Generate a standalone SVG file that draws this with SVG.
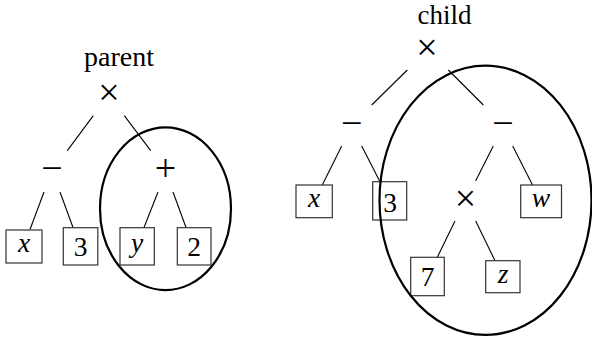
<svg xmlns="http://www.w3.org/2000/svg" width="592" height="345" viewBox="0 0 592 345">
<style>
text{font-family:"Liberation Serif","DejaVu Serif","Times New Roman",serif;fill:#000;text-anchor:middle}
.title{font-size:28px}
.op{font-size:38px}
.lbl{font-size:27.5px}
.it{font-style:italic}
.box{fill:none;stroke:#333;stroke-width:1.2}
.edge{stroke:#000;stroke-width:1.1;fill:none}
.ell{fill:none;stroke:#000;stroke-width:2.2}
</style>
<rect width="592" height="345" fill="#fff"/>
<g id="connectors">
<line class="edge" x1="93.3" y1="115.7" x2="67.3" y2="150.7"/>
<line class="edge" x1="124.3" y1="115.7" x2="150.7" y2="150.7"/>
<line class="edge" x1="44" y1="192" x2="30" y2="229.5"/>
<line class="edge" x1="60" y1="192" x2="73" y2="227.5"/>
<line class="edge" x1="158" y1="192" x2="144" y2="227.5"/>
<line class="edge" x1="173" y1="192" x2="186" y2="227.5"/>
<line class="edge" x1="407.3" y1="70" x2="371.7" y2="105"/>
<line class="edge" x1="448.3" y1="70" x2="483.3" y2="105"/>
<line class="edge" x1="341.7" y1="146" x2="322.3" y2="185"/>
<line class="edge" x1="361.7" y1="146" x2="380" y2="181.7"/>
<line class="edge" x1="493.3" y1="146" x2="475.7" y2="180.7"/>
<line class="edge" x1="512.7" y1="146" x2="532.5" y2="185"/>
<line class="edge" x1="455" y1="221" x2="437.3" y2="257.3"/>
<line class="edge" x1="475.7" y1="221" x2="495" y2="260.7"/>
</g>
<g id="parent-label"><text class="title" x="119" y="66">parent</text></g>
<g id="child-label"><text class="title" x="444.5" y="24" style="font-size:27px">child</text></g>
<g id="p-times"><text class="op" x="109" y="105">×</text></g>
<g id="p-minus"><text class="op" x="52" y="181">−</text></g>
<g id="p-plus"><text class="op" x="165.5" y="181">+</text></g>
<g id="p-x"><rect class="box" x="6" y="230" width="36" height="33"/><text class="lbl it" x="24" y="252">x</text></g>
<g id="p-3"><rect class="box" x="63.3" y="227.7" width="34.5" height="37.3"/><text class="lbl" x="80.5" y="256">3</text></g>
<g id="p-y"><rect class="box" x="120" y="227.7" width="34.3" height="37.3"/><text class="lbl it" x="137" y="252">y</text></g>
<g id="p-2"><rect class="box" x="177.3" y="227.7" width="33.7" height="37.3"/><text class="lbl" x="194" y="255.5">2</text></g>
<g id="c-times"><text class="op" x="427" y="60">×</text></g>
<g id="c-minus-l"><text class="op" x="351.7" y="136">−</text></g>
<g id="c-minus-r"><text class="op" x="503" y="136">−</text></g>
<g id="c-x"><rect class="box" x="296" y="185" width="36.3" height="32.7"/><text class="lbl it" x="314" y="207">x</text></g>
<g id="c-3"><rect class="box" x="372.7" y="181.7" width="34" height="38.3"/><text class="lbl" x="390" y="211.5">3</text></g>
<g id="c-times2"><text class="op" x="465.5" y="211">×</text></g>
<g id="c-w"><rect class="box" x="520.7" y="185" width="40.8" height="32.7"/><text class="lbl it" x="541" y="207">w</text></g>
<g id="c-7"><rect class="box" x="410.7" y="257.3" width="33.6" height="38.4"/><text class="lbl" x="427.5" y="286">7</text></g>
<g id="c-z"><rect class="box" x="485.7" y="260.7" width="34.3" height="32"/><text class="lbl it" x="503" y="283">z</text></g>
<g id="ellipses">
<ellipse class="ell" cx="165.5" cy="208.7" rx="65.5" ry="81.4"/>
<ellipse class="ell" cx="485.5" cy="200.3" rx="106" ry="134.6"/>
</g>
</svg>
